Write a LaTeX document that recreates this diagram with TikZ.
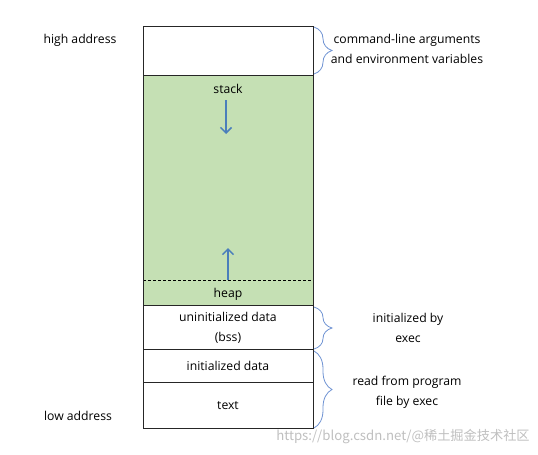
\documentclass[tikz,border=0pt]{standalone}
\usepackage{fontspec}
\setmainfont{Open Sans}
\newfontfamily\cjk{Noto Sans CJK SC}
\usetikzlibrary{arrows.meta,decorations.pathreplacing}
\definecolor{stackgreen}{HTML}{C5E0B4}
\definecolor{arrowblue}{HTML}{4A7EBB}
\definecolor{braceblue}{HTML}{6F93D3}
\tikzset{
  segment/.style = {draw=black!85, line width=0.8pt},
  memtext/.style = {font=\fontsize{12.2}{20}\selectfont, align=center, inner sep=0pt},
  growth/.style = {arrowblue, line width=1.5pt, -{Straight Barb[length=5.5pt,width=11pt]}},
  segbrace/.style = {braceblue, line width=0.8pt, decorate,
    decoration={brace,amplitude=18pt,aspect=0.5}}
}

\begin{document}
\begin{tikzpicture}[x=1pt,y=1pt]
  \useasboundingbox (0,0) rectangle (538,-455);
  \pgfmathsetmacro{\Left}{143};
  \pgfmathsetmacro{\Right}{313};
  \pgfmathsetmacro{\Mid}{228};
  %
  % memory segments
  \fill[stackgreen] (\Left,-75) rectangle (\Right,-305);
  \draw[densely dashed, line width=0.6pt] (\Left,-280) -- (\Right,-280);
  \draw[segment] (\Left,-26) rectangle (\Right,-428);
  \foreach \y in {75,305,349,382}
    \draw[segment] (\Left,-\y) -- (\Right,-\y);
  %
  \node[memtext] (high) at (80,-40) {high address};
  \node[memtext] (low) at (78,-416) {low address};
  \node[memtext] (stack) at (\Mid,-89) {stack};
  \node[memtext] (heap) at (\Mid,-294) {heap};
  \node[memtext] (bss) at (\Mid,-328) {uninitialized data\\(bss)};
  \node[memtext] (data) at (\Mid,-366) {initialized data};
  \node[memtext] (text) at (\Mid,-406) {text};
  % growth directions
  \coordinate (stacktop) at (226,-100);
  \coordinate (stackend) at (226,-134);
  \coordinate (heaptop) at (\Mid,-280);
  \coordinate (heapend) at (\Mid,-248);
  \draw[growth] (stacktop) -- (stackend);
  \draw[growth] (heaptop) -- (heapend);
  % braces
  \coordinate (argsA) at (314,-27);
  \coordinate (argsB) at (314,-74);
  \coordinate (bssA) at (314,-307);
  \coordinate (bssB) at (314,-349);
  \coordinate (fileA) at (314,-351);
  \coordinate (fileB) at (314,-428);
  \draw[segbrace] (argsA) -- (argsB);
  \draw[segbrace] (bssA) -- (bssB);
  \draw[segbrace] (fileA) -- (fileB);
  \node[memtext] (args) at (407,-48.5) {command-line arguments\\and environment variables};
  \node[memtext] (init) at (408,-328) {initialized by\\exec};
  \node[memtext] (read) at (407,-392.5) {read from program\\file by exec};
  % watermark
  \node[font=\cjk\fontsize{13.2}{15}\selectfont, text=black!25, inner sep=0pt] (mark) at (403,-437) {https://blog.csdn.net/@稀土掘金技术社区};
\end{tikzpicture}
\end{document}
